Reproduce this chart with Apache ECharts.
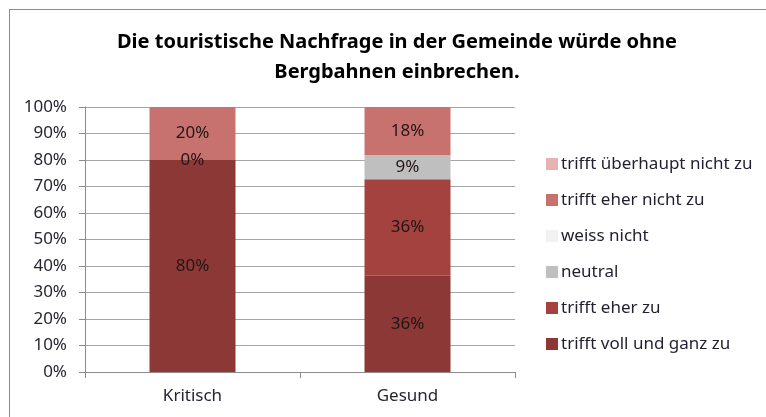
<!DOCTYPE html>
<html>
<head>
<meta charset="utf-8">
<script src="https://cdn.jsdelivr.net/npm/echarts@6/dist/echarts.min.js"></script>
<style>
    html, body { margin: 0; padding: 0; background: #fff; }
    #chart { width: 766px; height: 417px; position: relative; }
    .frame { position: absolute; left: 9px; top: 9px; right: -5px; bottom: -5px; border-left: 1px solid #8c8c8c; border-top: 1px solid #8c8c8c; }
</style>
</head>
<body>
<div class="frame"></div>
<div id="chart"></div>
<script>
// Kategorien und Werte (Anteile in %)
const categories = ['Kritisch', 'Gesund'];
const seriesNames = ['trifft voll und ganz zu', 'trifft eher zu', 'neutral', 'weiss nicht', 'trifft eher nicht zu', 'trifft überhaupt nicht zu'];
const vollUndGanz = [80, 36.36];
const eherZu = [0, 36.36];
const neutral = [null, 9.09];
const weissNicht = [null, null];
const eherNicht = [20, 18.18];
const ueberhaupt = [null, null];
const yTicks = [0, 10, 20, 30, 40, 50, 60, 70, 80, 90, 100];

const colors = ['#8b3836', '#a4423f', '#bfbfbf', '#f2f2f2', '#c87270', '#e6b3b2'];
const values = [vollUndGanz, eherZu, neutral, weissNicht, eherNicht, ueberhaupt];
const font = 'Noto Sans';

const myChart = echarts.init(document.getElementById('chart'));
myChart.setOption({
    animation: false,
    color: colors,
    title: {
        text: 'Die touristische Nachfrage in der Gemeinde würde ohne\nBergbahnen einbrechen.',
        left: 392,
        top: 22,
        textAlign: 'center',
        textStyle: {
            fontFamily: font,
            fontSize: 20,
            fontWeight: 'bold',
            lineHeight: 30,
            color: '#000'
        }
    },
    legend: {
        orient: 'vertical',
        left: 541,
        top: 149,
        itemWidth: 12,
        itemHeight: 12,
        itemGap: 16,
        icon: 'rect',
        data: seriesNames.slice().reverse(),
        textStyle: { fontFamily: font, fontSize: 17, color: '#1f1f2f', lineHeight: 20, padding: [0, 0, 0, -2] }
    },
    grid: { left: 85, right: 251, top: 107, bottom: 45 },
    xAxis: {
        type: 'category',
        data: categories,
        axisLine: { lineStyle: { color: '#8c8c8c' } },
        axisTick: { show: true, length: 6, lineStyle: { color: '#8c8c8c' } },
        axisLabel: { margin: 16, fontFamily: font, fontSize: 17, color: '#262633' }
    },
    yAxis: {
        type: 'value',
        min: yTicks[0],
        max: yTicks[yTicks.length - 1],
        interval: 10,
        axisLine: { show: true, lineStyle: { color: '#8c8c8c' } },
        axisTick: { show: true, length: 6, lineStyle: { color: '#8c8c8c' } },
        axisLabel: { margin: 18, fontFamily: font, fontSize: 17, color: '#262633', formatter: '{value}%' },
        splitLine: { lineStyle: { color: '#a6a6a6' } }
    },
    series: seriesNames.map(function (name, i) {
        return {
            name: name,
            type: 'bar',
            stack: 'total',
            barWidth: '40%',
            data: values[i],
            label: {
                show: true,
                position: 'inside',
                fontFamily: font,
                fontSize: 17,
                color: '#221616',
                formatter: function (p) { return p.value == null ? '' : Math.round(p.value) + '%'; }
            }
        };
    })
});
</script>
</body>
</html>
